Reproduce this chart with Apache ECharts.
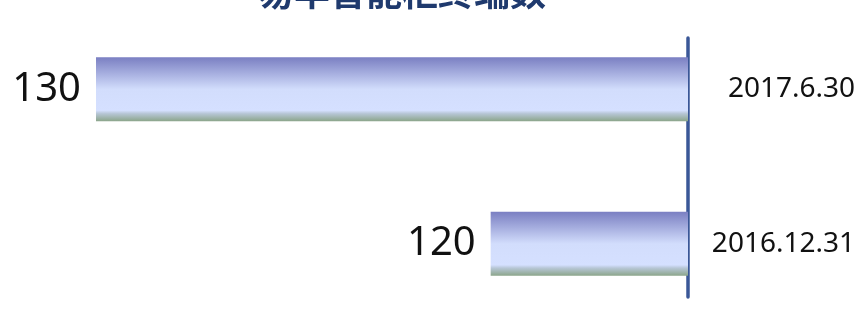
<!DOCTYPE html>
<html>
<head>
<meta charset="utf-8">
<script src="https://cdn.jsdelivr.net/npm/echarts@6/dist/echarts.min.js"></script>
<style>
  html, body { margin: 0; padding: 0; background: #fff; }
  #chart { width: 861px; height: 326px; }
</style>
</head>
<body>
<div id="chart"></div>
<script>
// data
var categories = ["2016.12.31", "2017.6.30"];
var values = [120, 130];
var titleText = "易丰智能柜终端数";

var dom = document.getElementById("chart");
var myChart = echarts.init(dom, null, { renderer: "canvas" });

// bar fill: blue top, pale middle, grey-green bottom edge
var barFill = new echarts.graphic.LinearGradient(0, 0, 0, 1, [
  { offset: 0, color: "#7a7fc2" },
  { offset: 0.5, color: "#d2ddfc" },
  { offset: 0.83, color: "#d5e0ff" },
  { offset: 0.88, color: "#b7c6d6" },
  { offset: 1, color: "#8ba58a" }
]);

var option = {
  animation: false,
  title: {
    text: titleText,
    left: 397,
    top: -31,
    textAlign: "center",
    textStyle: {
      fontFamily: "Noto Sans CJK SC",
      fontSize: 36,
      fontWeight: "bold",
      color: "#1f3a6e"
    }
  },
  grid: [
    { left: 96, right: 173, top: 12, bottom: 5 },
    { left: 96, right: 173, top: 38, bottom: 29 }
  ],
  xAxis: [
    { gridIndex: 0, type: "value", min: 115, max: 130, inverse: true, show: false },
    { gridIndex: 1, type: "value", min: 0, max: 1, inverse: true, show: false }
  ],
  yAxis: [
    {
      gridIndex: 0,
      type: "category",
      data: categories,
      position: "right",
      axisLine: { show: false },
      axisTick: { show: false },
      axisLabel: {
        align: "right",
        margin: 167,
        fontFamily: "Noto Sans",
        fontSize: 28,
        color: "#111"
      }
    },
    {
      gridIndex: 1,
      type: "value",
      position: "right",
      axisLine: { show: true, lineStyle: { color: "#3a5797", width: 3.5 } },
      axisTick: { show: false },
      axisLabel: { show: false },
      splitLine: { show: false }
    }
  ],
  series: [
    {
      type: "bar",
      xAxisIndex: 0,
      yAxisIndex: 0,
      data: values,
      barWidth: 64,
      itemStyle: { color: barFill },
      label: {
        show: true,
        position: "left",
        distance: 15,
        fontFamily: "Noto Sans",
        fontSize: 40,
        color: "#111"
      }
    }
  ]
};

myChart.setOption(option);
window.addEventListener("resize", myChart.resize);
</script>
</body>
</html>
